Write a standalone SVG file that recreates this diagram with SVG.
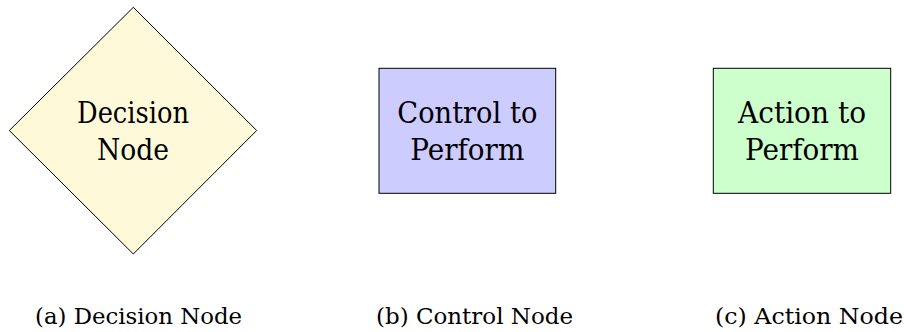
<svg xmlns="http://www.w3.org/2000/svg" width="904" height="332" viewBox="0 0 904 332">
<style>
.shape{stroke:#000;stroke-width:1}
text{font-family:"DejaVu Serif",serif;fill:#000}
.lbl{font-size:30px;text-anchor:middle}
.cap{font-size:23px}
</style>
<rect width="904" height="332" fill="#fff"/>
<g id="decision">
<polygon class="shape" points="133.3,7.3 256.7,130.5 133.3,254 9.3,130.5" fill="#FEF9D9"/>
<text class="lbl" x="133" y="123.3" textLength="112" lengthAdjust="spacingAndGlyphs" style="font-family:'DejaVu Serif',serif">Decision</text>
<text class="lbl" x="133" y="159.5" textLength="72" lengthAdjust="spacingAndGlyphs" style="font-family:'DejaVu Serif',serif">Node</text>
</g>
<g id="control">
<rect class="shape" x="379" y="68.3" width="176.7" height="125" fill="#CCCCFF"/>
<text class="lbl" x="467.3" y="123.3" textLength="140" lengthAdjust="spacingAndGlyphs" style="font-family:'DejaVu Serif',serif">Control to</text>
<text class="lbl" x="467.3" y="159.5" textLength="114" lengthAdjust="spacingAndGlyphs" style="font-family:'DejaVu Serif',serif">Perform</text>
</g>
<g id="action">
<rect class="shape" x="713.3" y="68.3" width="177.4" height="125" fill="#CCFFCC"/>
<text class="lbl" x="802" y="123.3" textLength="128" lengthAdjust="spacingAndGlyphs" style="font-family:'DejaVu Serif',serif">Action to</text>
<text class="lbl" x="802" y="159.5" textLength="114" lengthAdjust="spacingAndGlyphs" style="font-family:'DejaVu Serif',serif">Perform</text>
</g>
<g id="connectors"></g>
<g id="captions">
<text class="cap" x="35" y="323.5" textLength="207" lengthAdjust="spacingAndGlyphs" style="font-family:'DejaVu Serif',serif">(a) Decision Node</text>
<text class="cap" x="376" y="323.5" textLength="197" lengthAdjust="spacingAndGlyphs" style="font-family:'DejaVu Serif',serif">(b) Control Node</text>
<text class="cap" x="715" y="323.5" textLength="188" lengthAdjust="spacingAndGlyphs" style="font-family:'DejaVu Serif',serif">(c) Action Node</text>
</g>
</svg>
